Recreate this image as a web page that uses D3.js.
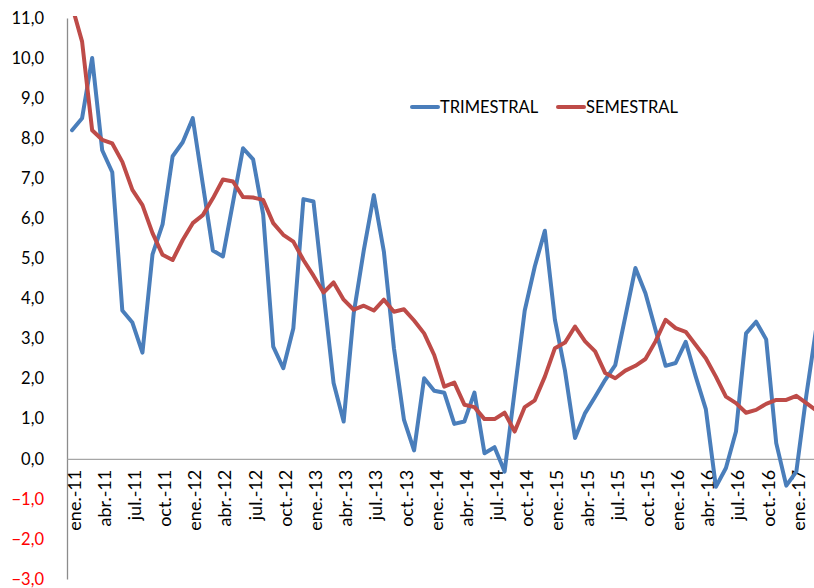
<!DOCTYPE html>
<html><head><meta charset="utf-8">
<script src="https://cdn.jsdelivr.net/npm/d3@7"></script>
<style>
html,body{margin:0;padding:0;background:#fff;overflow:hidden}
svg{display:block}
text{font-family:Lato,"Open Sans",sans-serif;fill:#000}
</style></head>
<body>
<svg id="chart" width="814" height="588"></svg>
<script>
const monthNames = ["ene.","feb.","mar.","abr.","may.","jun.","jul.","ago.","sep.","oct.","nov.","dic."];
const years = ["11","12","13","14","15","16","17"];
const monthCount = 75; // ene.-11 .. mar.-17
const categories = [];
years.forEach(yy => monthNames.forEach(m => { if (categories.length < monthCount) categories.push(m + "-" + yy); }));

const trimestral = [
  8.2, 8.5, 10.0, 7.7, 7.15, 3.7, 3.4, 2.65, 5.1, 5.85, 7.55, 7.9,
  8.5, 6.85, 5.2, 5.05, 6.4, 7.75, 7.47, 6.1, 2.8, 2.26, 3.26, 6.48,
  6.42, 4.15, 1.89, 0.93, 3.63, 5.2, 6.58, 5.17, 2.76, 0.97, 0.21, 2.01,
  1.7, 1.65, 0.87, 0.93, 1.65, 0.14, 0.29, -0.32, 1.7, 3.7, 4.8, 5.69,
  3.47, 2.2, 0.52, 1.14, 1.55, 1.97, 2.34, 3.55, 4.76, 4.13, 3.22, 2.32,
  2.39, 2.92, 2.05, 1.24, -0.7, -0.23, 0.68, 3.13, 3.42, 2.98, 0.39, -0.67,
  -0.32, 1.6, 3.3
];
const semestral = [
  11.3, 10.41, 8.2, 7.96, 7.87, 7.41, 6.71, 6.33, 5.63, 5.09, 4.96, 5.46,
  5.88, 6.08, 6.5, 6.97, 6.92, 6.53, 6.52, 6.46, 5.88, 5.59, 5.42, 4.96,
  4.57, 4.15, 4.4, 3.97, 3.72, 3.82, 3.7, 3.97, 3.67, 3.73, 3.45, 3.13,
  2.59, 1.8, 1.9, 1.35, 1.29, 0.99, 0.99, 1.15, 0.68, 1.29, 1.46, 2.05,
  2.76, 2.9, 3.3, 2.93, 2.68, 2.14, 2.01, 2.2, 2.32, 2.49, 2.93, 3.47,
  3.26, 3.17, 2.84, 2.51, 2.05, 1.55, 1.39, 1.15, 1.22, 1.37, 1.47, 1.47,
  1.57, 1.39, 1.2
];
const yTicks = [-3,-2,-1,0,1,2,3,4,5,6,7,8,9,10,11];
const seriesNames = ["TRIMESTRAL","SEMESTRAL"];
const seriesColors = ["#4A7EBB","#BE4B48"];

const svg = d3.select("#chart");
const mLeft = 67, mRight = 821.5, mTop = 18, mBottom = 579;

const x = d3.scalePoint().domain(categories).range([mLeft, mRight]).padding(0.5);
const y = d3.scaleLinear().domain([-3, 11]).range([mBottom, mTop]);

svg.append("defs").append("clipPath").attr("id","plotclip")
  .append("rect").attr("x", mLeft).attr("y", mTop - 2).attr("width", mRight - mLeft).attr("height", mBottom - mTop + 2);

// y axis
const yAxis = d3.axisLeft(y).tickValues(yTicks).tickSize(0).tickPadding(23)
  .tickFormat(d => d3.format(".1f")(d).replace(".", ","));
const gy = svg.append("g").attr("transform", `translate(${mLeft},0)`).call(yAxis);
gy.select(".domain").attr("stroke", "#8c8c8c").attr("stroke-width", 1.3);
gy.selectAll("text").style("font-size", "16.5px").style("font-family", "Lato, sans-serif")
  .style("fill", d => d < 0 ? "#FF0000" : "#000");

// x axis at zero
const xAxis = d3.axisBottom(x).tickSize(0).tickPadding(0)
  .tickValues(categories.filter((c, i) => i % 3 === 0));
const gx = svg.append("g").attr("transform", `translate(0,${y(0)})`).call(xAxis);
gx.select(".domain").attr("stroke", "#a6a6a6").attr("stroke-width", 1.3);
gx.selectAll(".tick").attr("transform", d => `translate(${x(d) + 1.5},0)`);
gx.selectAll("text").style("font-size", "18px").style("font-family", "Lato, sans-serif")
  .attr("text-anchor", "end").attr("dy", null).attr("y", 0).attr("x", 0)
  .attr("transform", "translate(0,11) rotate(-90)")
  .attr("dominant-baseline", "central");

// lines
const line = d3.line().x((d, i) => x(categories[i])).y(d => y(d));
const plot = svg.append("g").attr("clip-path", "url(#plotclip)");
[trimestral, semestral].forEach((s, k) => {
  plot.append("path").datum(s).attr("d", line)
    .attr("fill", "none").attr("stroke", seriesColors[k]).attr("stroke-width", 4)
    .attr("stroke-linejoin", "round").attr("stroke-linecap", "round");
});

// legend
const legendPos = [412, 558];
seriesNames.forEach((n, k) => {
  const g = svg.append("g").attr("transform", `translate(${legendPos[k]},107)`);
  g.append("line").attr("x1", 0).attr("x2", 26).attr("y1", 0).attr("y2", 0)
    .attr("stroke", seriesColors[k]).attr("stroke-width", 4).attr("stroke-linecap", "round");
  g.append("text").attr("x", 28).attr("y", 0).attr("dominant-baseline", "central")
    .style("font-size", "16.5px").text(n);
});
</script>
</body></html>
